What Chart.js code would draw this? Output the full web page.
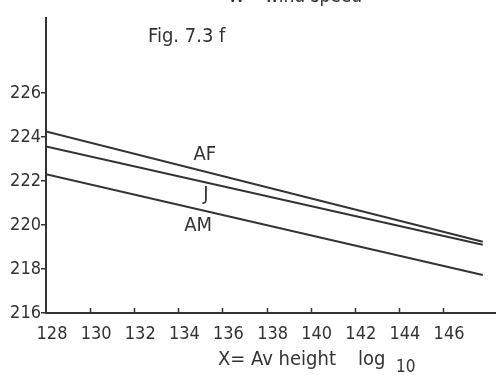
<!DOCTYPE html>
<html>
<head>
<meta charset="utf-8">
<script src="https://cdn.jsdelivr.net/npm/chart.js@4.4.1/dist/chart.umd.min.js"></script>
<style>
  html, body { margin: 0; padding: 0; background: #fff; }
  #wrap { width: 496px; height: 375px; }
</style>
</head>
<body>
<div id="wrap"><canvas id="windChart" width="496" height="375"></canvas></div>
<script>
// x = average height (log10 units), y = wind speed
const heightX = [128, 147.8];
const seriesNames = ["AF", "J", "AM"];
const afValues = [224.25, 219.24];
const jValues = [223.56, 219.10];
const amValues = [222.3, 217.73];

const xTicks = [128, 130, 132, 134, 136, 138, 140, 142, 144, 146];
const yTicks = [216, 218, 220, 222, 224, 226];

// where each curve name sits (x, y in data units)
const nameSpots = [[135.2, 223.2], [135.25, 221.35], [134.9, 219.95]];

const INK = "#333";
const FONT = "'DejaVu Sans Condensed', 'DejaVu Sans', sans-serif";

function toPoints(values) {
  return heightX.map((x, i) => ({ x: x, y: values[i] }));
}

const textPlugin = {
  id: "figText",
  afterDraw(chart) {
    const ctx = chart.ctx;
    const xs = chart.scales.x;
    const ys = chart.scales.y;
    ctx.save();
    ctx.fillStyle = INK;
    ctx.textBaseline = "alphabetic";

    // heading, mostly cut off at the top edge
    ctx.font = "19px " + FONT;
    ctx.textAlign = "left";
    ctx.fillText("W= wind speed", 228, 2);

    ctx.font = "20px " + FONT;
    ctx.fillText("Fig. 7.3 f", 148, 42);

    // curve names
    ctx.font = "20px " + FONT;
    ctx.textAlign = "center";
    ctx.textBaseline = "middle";
    seriesNames.forEach((name, i) => {
      ctx.fillText(name, xs.getPixelForValue(nameSpots[i][0]), ys.getPixelForValue(nameSpots[i][1]));
    });

    // x axis title with subscript
    ctx.textAlign = "left";
    ctx.textBaseline = "alphabetic";
    ctx.font = "20px " + FONT;
    ctx.fillText("X= Av height", 218, 365);
    ctx.fillText("log", 358, 365);
    ctx.font = "17px " + FONT;
    ctx.fillText("10", 396, 372);

    // inward tick marks on the x axis
    ctx.strokeStyle = INK;
    ctx.lineWidth = 1.5;
    const bottom = chart.chartArea.bottom;
    xTicks.slice(1).forEach(v => {
      const px = Math.round(xs.getPixelForValue(v)) + 0.5;
      ctx.beginPath();
      ctx.moveTo(px, bottom);
      ctx.lineTo(px, bottom - 5);
      ctx.stroke();
    });
    ctx.restore();
  }
};

const lineStyle = {
  borderColor: INK,
  borderWidth: 2,
  pointRadius: 0,
  fill: false,
  tension: 0
};

new Chart(document.getElementById("windChart").getContext("2d"), {
  type: "line",
  data: {
    datasets: [
      Object.assign({ label: seriesNames[0], data: toPoints(afValues) }, lineStyle),
      Object.assign({ label: seriesNames[1], data: toPoints(jValues) }, lineStyle),
      Object.assign({ label: seriesNames[2], data: toPoints(amValues) }, lineStyle)
    ]
  },
  options: {
    responsive: false,
    animation: false,
    layout: { padding: { top: 18, right: 0, left: 0, bottom: 0 } },
    plugins: {
      legend: { display: false },
      tooltip: { enabled: false }
    },
    scales: {
      x: {
        type: "linear",
        min: 128,
        max: 148.4,
        afterBuildTicks: s => { s.ticks = xTicks.map(v => ({ value: v })); },
        afterFit: s => { s.height = 62; },
        border: { display: true, color: INK, width: 2 },
        grid: { display: true, drawOnChartArea: false, drawTicks: false },
        ticks: {
          color: INK,
          padding: 11,
          labelOffset: 6,
          maxRotation: 0,
          autoSkip: false,
          font: { family: FONT, size: 18 }
        }
      },
      y: {
        min: 216,
        max: 229.4,
        afterBuildTicks: s => { s.ticks = yTicks.map(v => ({ value: v })); },
        afterFit: s => { s.width = 46; },
        border: { display: true, color: INK, width: 2 },
        grid: { drawOnChartArea: false, drawTicks: true, tickLength: 5, color: INK, lineWidth: 1.5 },
        ticks: {
          color: INK,
          padding: 0,
          font: { family: FONT, size: 18 }
        }
      }
    }
  },
  plugins: [textPlugin]
});
</script>
</body>
</html>
